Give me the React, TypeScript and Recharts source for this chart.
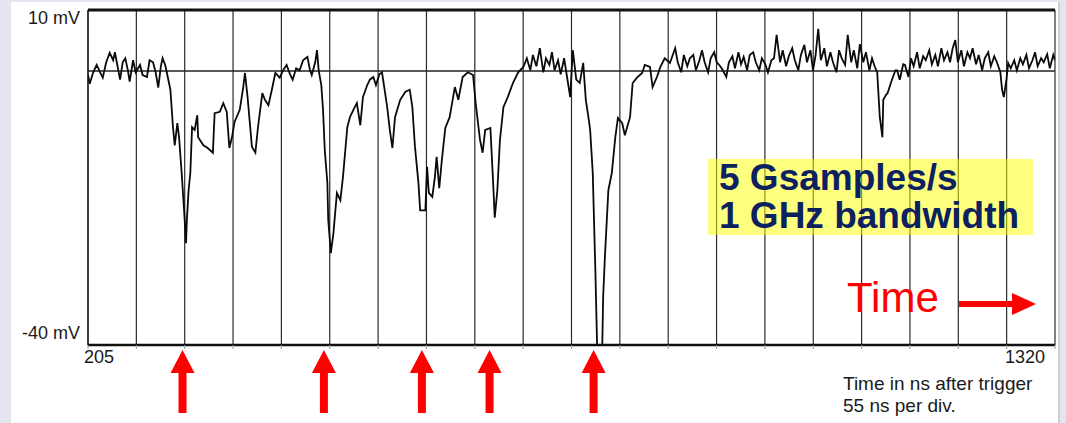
import React from 'react';
import {
    LineChart,
    Line,
    XAxis,
    YAxis,
    CartesianGrid,
    ReferenceLine,
    ReferenceDot
} from 'recharts';

// sample times (ns after trigger)
const TIME_NS = [
    205, 207, 211, 215, 219, 222, 226, 230, 234, 236, 240, 242, 245, 248, 251, 253, 257, 260, 265, 268,
    273, 276, 280, 283, 286, 289, 291, 294, 296,
    300, 303, 305, 308, 310, 313, 316, 318, 319, 321, 323, 325, 328, 331, 332,
    338, 343, 349, 351, 357, 361, 365, 368, 371, 374, 380, 384, 386,
    389, 394, 398, 401, 406, 409, 413, 417, 421, 426, 430, 434, 438, 441, 445, 449, 453, 458, 461, 463,
    467, 469, 471,
    474, 476, 478, 481, 482, 485, 488, 492, 496, 499, 504, 507, 511, 515, 519, 522, 527, 530, 534, 537,
    541, 544,
    547, 550, 553, 556, 559, 565, 571, 576, 579, 582, 586, 588, 594, 596, 598, 602, 605, 607, 610, 613,
    617, 622, 628, 632, 637, 643, 649,
    652, 657, 660, 663, 669, 672, 674, 677, 680, 684, 689, 695, 701, 707,
    711, 715, 718, 722, 726, 730, 733, 737, 740, 743, 747, 750, 754, 757, 761, 764, 768, 772, 776,
    779, 782, 784, 787, 790, 792, 798, 799, 801, 805, 809, 813, 816, 821, 824, 830, 833, 838, 844, 847,
    853, 856, 861, 865, 870, 876, 882,
    885, 889, 892, 896, 899, 903, 906, 910, 913, 916, 920, 923, 927, 930, 934, 937, 941, 944, 948, 951,
    955, 958, 961, 965, 968, 972, 975, 979, 982, 986, 989, 993, 996, 999, 1003, 1006, 1010, 1013, 1017,
    1020, 1024, 1027, 1031, 1034, 1038, 1041, 1044, 1047, 1050, 1054, 1057, 1061, 1064, 1068, 1071,
    1074, 1078, 1081, 1085, 1088, 1092, 1095, 1099, 1102, 1106, 1109, 1112, 1115,
    1118, 1121, 1122, 1125, 1127, 1130, 1132, 1136, 1138, 1141, 1145, 1147, 1151, 1154, 1157, 1161,
    1164, 1168, 1171, 1175, 1178, 1182, 1185, 1189, 1192, 1196, 1199, 1202, 1205, 1208, 1212, 1215,
    1219, 1222, 1225, 1229, 1232, 1236, 1239, 1243, 1246, 1250, 1253, 1257,
    1259, 1261, 1264, 1266, 1269, 1273, 1276, 1280, 1283, 1287, 1290, 1294, 1297, 1300, 1304, 1307,
    1311, 1314, 1318, 1320
];

// signal in mV at those times
const SIGNAL_MV = [
    0.3, -1.0, 0.7, 1.8, 0.7, -0.1, 2.2, 3.6, 2.5, 3.7, 1.0, -0.4, 2.2, 2.8, 1.0, -0.7, 2.5, 0.7, 1.8, 0.3,
    0.0, 2.5, 2.2, 0.7, -1.6, 1.6, 2.8, 1.8, 0.6,
    -1.9, -7.5, -10.2, -6.9, -9.0, -14.3, -20.3, -24.8, -21.3, -16.9, -14.3, -7.5, -7.9, -5.7, -9.0,
    -10.2, -10.6, -11.3, -5.4, -5.2, -3.9, -5.2, -10.6, -9.0, -6.7, -4.9, -1.5, 0.6,
    -3.0, -10.4, -11.3, -7.5, -2.4, -3.4, -4.2, -1.9, 0.6, -0.1, 1.0, 1.8, 0.4, -0.4, 1.3, 1.0, 2.5, 3.0,
    1.0, 0.3, 2.2, 4.0, 1.0,
    -1.2, -4.9, -10.9, -15.8, -21.3, -26.3, -23.3, -17.3, -18.4, -14.9, -7.5, -6.0, -4.9, -3.9, -7.2,
    -3.0, -1.2, -0.4, 0.0, -1.2, 0.4, 0.7,
    -1.9, -4.5, -7.9, -10.6, -6.0, -3.4, -2.2, -1.9, -4.5, -10.4, -15.8, -19.9, -19.9, -13.4, -17.3,
    -17.9, -14.9, -11.9, -16.6, -12.4, -7.6, -6.0, -1.5, -3.4, 0.0, 0.7, 0.3,
    -3.9, -9.4, -11.3, -7.9, -7.6, -15.4, -21.0, -16.9, -9.4, -4.5, -3.0, -0.9, 0.7, 1.5,
    2.8, 1.0, 3.3, 1.6, 4.3, 0.7, 2.8, 1.8, 3.7, 1.0, 2.5, 0.4, 2.8, 0.3, -3.0, 4.0, -0.4, -0.9, 2.1,
    -3.4, -6.0, -7.9, -14.3, -28.8, -40.0, -40.0, -32.8, -26.9, -16.9, -14.3, -9.0, -6.1, -6.9, -8.7,
    -6.0, -0.9, -0.1, 0.6, 1.8, 1.5, -1.5, 0.0, 1.5, 2.8, 2.1, 4.3,
    2.2, 0.7, 3.3, 1.6, 2.8, 3.3, 1.0, 2.5, 4.0, 2.2, 0.7, 2.8, 3.7, 2.2, 1.6, 1.0, 0.0, 2.2, 3.1, 1.3,
    3.7, 1.9, 3.0, 1.0, 3.3, 3.7, 2.2, 1.0, 2.8, 1.9, 0.7, 2.5, 2.8, 6.3, 2.2, 4.0, 1.6, 3.1, 4.3, 2.5,
    1.0, 3.3, 4.8, 2.2, 4.0, 1.0, 3.3, 7.2, 2.5, 4.3, 1.6, 3.7, 2.2, 0.7, 4.0, 2.8, 1.8, 6.3, 2.2, 4.0,
    1.3, 4.9, 2.2, 3.7, 1.0, 2.8, 1.6, 0.7,
    -6.0, -9.0, -3.4, -2.7, -2.4, -1.2, -0.4, 1.0, 1.0, -0.4, 1.9, 1.8, 0.0, 2.8, 1.6, 3.7, 1.3, 3.1,
    2.5, 4.0, 1.9, 3.3, 1.6, 4.3, 2.5, 3.7, 2.2, 4.3, 5.5, 2.2, 4.0, 1.6, 3.7, 2.8, 4.3, 1.9, 3.3, 1.0,
    2.8, 3.7, 1.6, 3.1, 2.2, 0.7,
    -1.9, -3.0, -0.4, 2.1, 1.3, 2.5, 1.0, 2.8, 1.9, 3.3, 1.3, 2.5, 3.7, 1.6, 2.8, 2.2, 3.4, 1.3, 3.3, 2.5
];

// 20 divisions across the screen
const GRID_NS = [
    205, 260.75, 316.5, 372.25, 428, 483.75, 539.5, 595.25, 651, 706.75, 762.5,
    818.25, 874, 929.75, 985.5, 1041.25, 1097, 1152.75, 1208.5, 1264.25, 1320
];
const X_LABELS = [205, 1320];
const Y_TICKS = [10, -40];
const BASELINE_MV = 0.9;

// pulses marked with red arrows
const ARROW_NS = [314, 477, 590, 668, 788];

const chartData = TIME_NS.map((t, i) => ({ t, mv: SIGNAL_MV[i] }));

const FONT = "'Liberation Sans', Arial, sans-serif";
const RED = '#ff0000';

const YTick = (props: any) => {
    const { x, y, payload } = props;
    const dy = payload.value === 10 ? 14 : -6;
    return (
        <text x={x} y={y} dy={dy} textAnchor="end" fontFamily={FONT} fontSize={18} fill="#1a1a1a">
            {payload.value} mV
        </text>
    );
};

const XTick = (props: any) => {
    const { x, y, payload } = props;
    if (!X_LABELS.includes(payload.value)) return <g />;
    const first = payload.value === X_LABELS[0];
    return (
        <text
            x={x}
            y={y}
            dx={first ? -4 : -10}
            dy={12}
            textAnchor={first ? 'start' : 'end'}
            fontFamily={FONT}
            fontSize={18}
            fill="#1a1a1a"
        >
            {payload.value}
        </text>
    );
};

const UpArrow = (props: any) => {
    const { cx, cy } = props;
    return (
        <g>
            <polygon points={`${cx},${cy + 5} ${cx - 12},${cy + 28} ${cx + 12},${cy + 28}`} fill={RED} />
            <rect x={cx - 4} y={cy + 27} width={8} height={41} fill={RED} />
        </g>
    );
};

const App: React.FC = () => {
    return (
        <div style={{ position: 'absolute', left: 0, top: 0, width: 1066, height: 423, background: '#e5e5f1', overflow: 'hidden' }}>
            <div style={{ position: 'absolute', left: 11, top: 2, width: 1047, height: 421, background: '#ffffff', borderRight: '2px solid #cfcfd6' }} />
            <div style={{ position: 'absolute', left: 0, top: 0 }}>
                <LineChart width={1066} height={423} data={chartData} margin={{ top: 10, right: 11, bottom: 38, left: 0 }}>
                    <CartesianGrid horizontal={false} stroke="#2a2a2a" strokeWidth={1.2} />
                    <XAxis
                        dataKey="t"
                        type="number"
                        domain={[205, 1320]}
                        ticks={GRID_NS}
                        interval={0}
                        height={40}
                        tick={<XTick />}
                        tickSize={4}
                        tickLine={{ stroke: '#999999' }}
                        axisLine={{ stroke: '#111111', strokeWidth: 2.5 }}
                        allowDataOverflow
                    />
                    <YAxis
                        type="number"
                        domain={[-40, 10]}
                        ticks={Y_TICKS}
                        width={88}
                        tick={<YTick />}
                        tickLine={false}
                        axisLine={{ stroke: '#111111', strokeWidth: 1.2 }}
                        allowDataOverflow
                    />
                    <ReferenceLine y={10} stroke="#111111" strokeWidth={3} />
                    <ReferenceLine y={BASELINE_MV} stroke="#222222" strokeWidth={1.5} />
                    <Line
                        type="linear"
                        dataKey="mv"
                        stroke="#0a0a0a"
                        strokeWidth={1.8}
                        dot={false}
                        isAnimationActive={false}
                    />
                    {ARROW_NS.map(t => (
                        <ReferenceDot key={t} x={t} y={-40} ifOverflow="visible" shape={<UpArrow />} />
                    ))}
                </LineChart>
            </div>
            <div
                style={{
                    position: 'absolute',
                    left: 708,
                    top: 159,
                    width: 314,
                    height: 76,
                    paddingLeft: 11,
                    background: 'rgba(255, 255, 0, 0.5)',
                    color: '#0b2160',
                    fontFamily: FONT,
                    fontWeight: 'bold',
                    fontSize: 37,
                    lineHeight: '38px',
                    whiteSpace: 'nowrap'
                }}
            >
                5 Gsamples/s
                <br />
                1 GHz bandwidth
            </div>
            <svg width={1066} height={423} style={{ position: 'absolute', left: 0, top: 0, pointerEvents: 'none' }}>
                <text x={847} y={312} fontFamily={FONT} fontSize={42} fill={RED}>Time</text>
                <rect x={959} y={301} width={54} height={6} fill={RED} />
                <polygon points="1012,293 1036,304 1012,315" fill={RED} />
                <text x={843} y={390} fontFamily={FONT} fontSize={19} fill="#1a1a1a">Time in ns after trigger</text>
                <text x={843} y={412} fontFamily={FONT} fontSize={19} fill="#1a1a1a">55 ns per div.</text>
            </svg>
        </div>
    );
};

export default App;
